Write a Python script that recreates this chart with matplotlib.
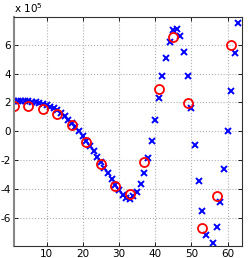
import numpy as np
import matplotlib.pyplot as plt
from matplotlib.ticker import FuncFormatter

# blue crosses: every sample, 1..63 (values in units of 1e5)
x_full = np.arange(1, 64)
y_full = np.array([
    2.12, 2.12, 2.11, 2.10, 2.08, 2.05, 2.01, 1.96, 1.89, 1.81,
    1.71, 1.59, 1.45, 1.27, 1.05, 0.82, 0.56, 0.30, 0.03, -0.30,
    -0.65, -1.00, -1.38, -1.75, -2.12, -2.50, -2.90, -3.30, -3.68, -4.05,
    -4.40, -4.62, -4.65, -4.48, -4.20, -3.60, -2.85, -1.80, -0.64, 0.77,
    2.30, 3.80, 5.10, 6.20, 7.00, 7.10, 6.60, 5.50, 3.80, 1.60,
    -0.94, -3.40, -5.50, -7.15, -8.50, -7.70, -6.60, -4.90, -2.60, 0.00,
    2.80, 5.40, 7.50,
]) * 1e5

# red circles: every 4th sample
x_sub = np.arange(1, 64, 4)
y_sub = np.array([
    1.75, 1.74, 1.58, 1.20, 0.44, -0.72, -2.28, -3.80,
    -4.30, -2.10, 2.95, 6.55, 1.93, -6.70, -4.45, 6.00,
]) * 1e5

fig = plt.figure(figsize=(2.49, 2.58), dpi=100)
ax = fig.add_axes([0.056, 0.047, 0.916, 0.887])

ax.plot(x_full, y_full, 'x', color='#0000ff', ms=4.5, mew=1.4, linestyle='none')
ax.plot(x_sub, y_sub, 'o', mfc='none', mec='#ff0000', ms=6.5, mew=1.3, linestyle='none')

ax.set_xlim(1, 64)
ax.set_ylim(-7.9e5, 7.9e5)
ax.set_xticks([10, 20, 30, 40, 50, 60])
ax.set_yticks(np.arange(-6, 7, 2) * 1e5)
ax.yaxis.set_major_formatter(FuncFormatter(lambda v, p: '%d' % round(v / 1e5)))

ax.grid(True, linestyle=':', color='#b0b0b0', linewidth=0.8)
ax.tick_params(direction='in', top=True, right=True, labelsize=7.5,
               length=3, width=0.6, pad=2)
for s in ax.spines.values():
    s.set_linewidth(0.8)
    s.set_color('#333333')
ax.spines['left'].set_color('#888888')
ax.spines['left'].set_linewidth(1.5)

ax.text(0.0, 1.01, r'x 10$^5$', transform=ax.transAxes, fontsize=7.5,
        ha='left', va='bottom')

fig.savefig('out.png', dpi=100)
